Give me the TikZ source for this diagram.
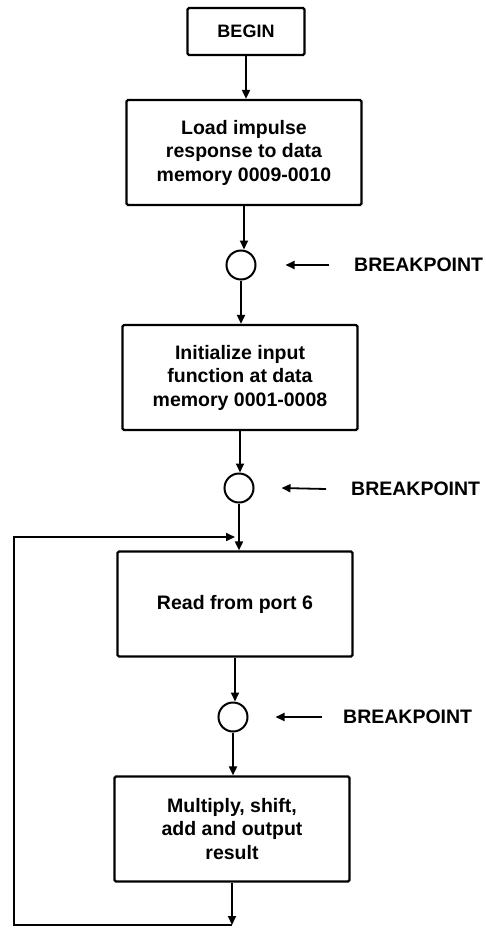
\documentclass[tikz,border=0pt]{standalone}
\usepackage{fontspec}
\setmainfont{Liberation Sans}
\usetikzlibrary{arrows.meta}
\begin{document}
\begin{tikzpicture}[x=1pt,y=-1pt,
  box/.style={draw, line width=2.2pt, rounded corners=1.5pt, minimum width=235pt, minimum height=105pt,
    align=center, inner sep=0pt, font=\fontsize{19.5}{23.5}\selectfont\bfseries},
  startbox/.style={box, minimum width=117pt, minimum height=47pt, font=\fontsize{18}{22}\selectfont\bfseries},
  bpcircle/.style={draw, circle, line width=2pt, minimum size=29pt, inner sep=0pt},
  bptext/.style={anchor=west, inner sep=0pt, font=\fontsize{19.5}{22}\selectfont\bfseries},
  arr/.style={line width=1.8pt, -{Triangle[length=9pt,width=8pt]}}]
\useasboundingbox (0,0) rectangle (486,929);
\node[startbox] (begin) at (246,31.5) {BEGIN};
\node[box] (load) at (244,152.5) {Load impulse\\response to data\\memory 0009-0010};
\node[bpcircle] (c1) at (241,265) {};
\node[box] (init) at (240,377.5) {Initialize input\\function at data\\memory 0001-0008};
\node[bpcircle] (c2) at (239,488) {};
\node[box] (read) at (235,604) {Read from port 6};
\node[bpcircle] (c3) at (233,717) {};
\node[box] (mult) at (232,829) {Multiply, shift,\\add and output\\result};
\node[bptext] (b1) at (354,265) {BREAKPOINT};
\node[bptext] (b2) at (351,489) {BREAKPOINT};
\node[bptext] (b3) at (343,717) {BREAKPOINT};
\coordinate (lb) at (232,925);
\coordinate (ll) at (14,925);
\coordinate (lt) at (14,537);
\coordinate (lj) at (235,537);
\draw[arr] (begin.south) -- (begin.south |- load.north);
\draw[arr] (load.south) -- (load.south |- c1.north);
\draw[arr] (c1.south) -- (c1.south |- init.north);
\draw[arr] (init.south) -- (init.south |- c2.north);
\draw[arr] (c2.south) -- (c2.south |- read.north);
\draw[arr] (read.south) -- (read.south |- c3.north);
\draw[arr] (c3.south) -- (c3.south |- mult.north);
\draw[arr] (mult.south) -- (lb);
\draw[arr] (lb) -- (ll) -- (lt) -- (lj);
\draw[arr] ([xshift=-25pt]b1.west) -- ([xshift=29pt]c1.east);
\draw[arr] ([xshift=-25pt]b2.west) -- ([xshift=27pt]c2.east);
\draw[arr] ([xshift=-21pt]b3.west) -- ([xshift=27pt]c3.east);
\end{tikzpicture}
\end{document}
